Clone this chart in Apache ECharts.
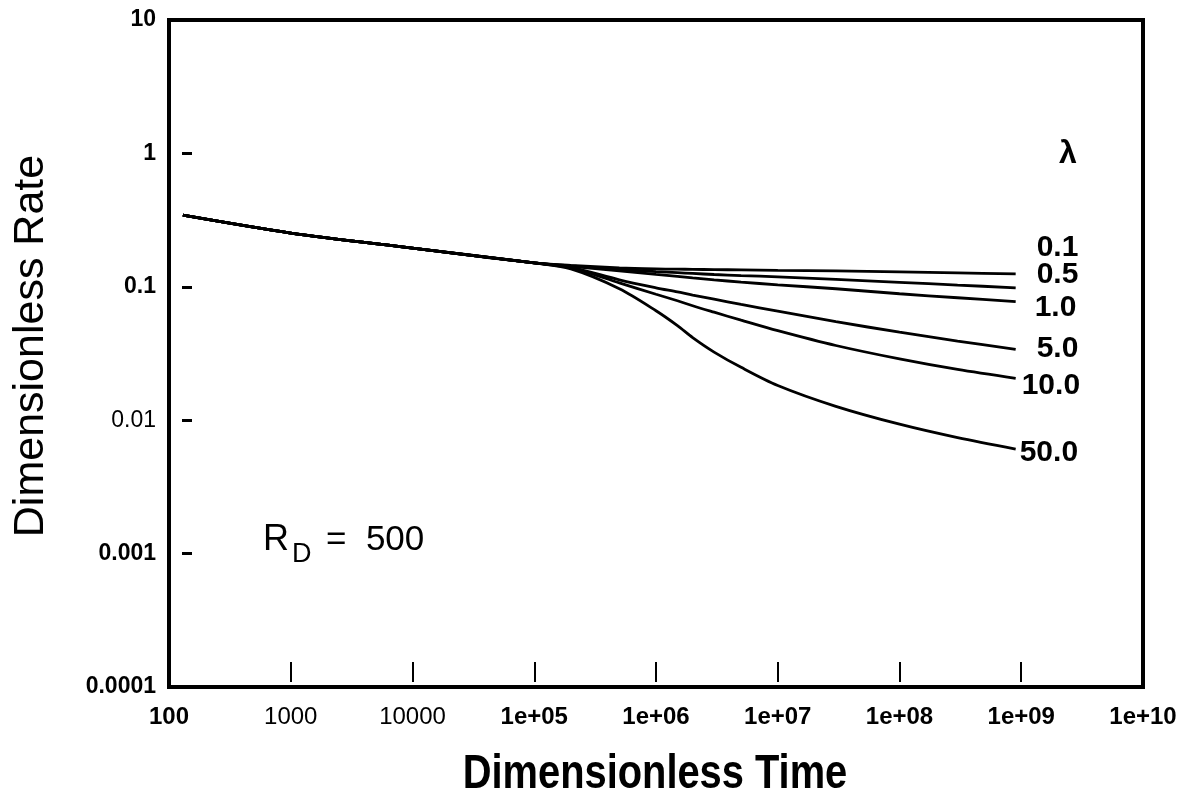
<!DOCTYPE html>
<html>
<head>
<meta charset="utf-8">
<script src="https://cdn.jsdelivr.net/npm/echarts@6/dist/echarts.min.js"></script>
<style>
  html, body { margin: 0; padding: 0; background: #fff; }
  #chart { width: 1182px; height: 800px; }
</style>
</head>
<body>
<div id="chart"></div>
<script>
// early time, all curves on top of each other
const tCommon = [130, 1e3, 1e4, 1e5];
const qCommon = [0.344, 0.253, 0.195, 0.151];
// later time, one curve per lambda
const tTail = [2e5, 5e5, 1e6, 1.5e6, 2e6, 3e6, 5e6, 1e7, 3e7, 1e8, 3e8, 9e8];

const lambdas = ['0.1', '0.5', '1.0', '5.0', '10.0', '50.0'];
const qLam01 = [0.1448, 0.1387, 0.1362, 0.1356, 0.1351, 0.1345, 0.1340, 0.1328, 0.1317, 0.1294, 0.1272, 0.1250];
const qLam05 = [0.1435, 0.1351, 0.1301, 0.1276, 0.1259, 0.1237, 0.1214, 0.1188, 0.1138, 0.1081, 0.1030, 0.0983];
const qLam1 = [0.1423, 0.1317, 0.1240, 0.1198, 0.1167, 0.1128, 0.1084, 0.1035, 0.0967, 0.0887, 0.0828, 0.0773];
const qLam5 = [0.1399, 0.1128, 0.0983, 0.0915, 0.0866, 0.0807, 0.0738, 0.0657, 0.0548, 0.0457, 0.0392, 0.0339];
const qLam10 = [0.1387, 0.1071, 0.0879, 0.0786, 0.0721, 0.0645, 0.0562, 0.0469, 0.0363, 0.0288, 0.0240, 0.0206];
const qLam50 = [0.1362, 0.0967, 0.0662, 0.0512, 0.0416, 0.0324, 0.0249, 0.0182, 0.0127, 0.00933, 0.00740, 0.00608];

const xTickLabels = ['100', '1000', '10000', '1e+05', '1e+06', '1e+07', '1e+08', '1e+09', '1e+10'];
const yTickLabels = ['0.0001', '0.001', '0.01', '0.1', '1', '10'];

// where the lambda text sits relative to the line end
const labelOffsets = [[21, -26], [21, -13], [19, 6], [21, -1], [6, 7], [4, 4]];

const tails = [qLam01, qLam05, qLam1, qLam5, qLam10, qLam50];

const FONT = "'Liberation Sans', Arial, Helvetica, sans-serif";

function buildSeries() {
  return lambdas.map((lam, i) => {
    const pts = [];
    tCommon.forEach((t, k) => pts.push([t, qCommon[k]]));
    tTail.forEach((t, k) => pts.push([t, tails[i][k]]));
    return {
      name: lam,
      type: 'line',
      data: pts,
      smooth: 0.3,
      showSymbol: false,
      symbol: 'none',
      lineStyle: { color: '#000', width: 2.8 },
      endLabel: {
        show: true,
        formatter: lam,
        distance: 0,
        offset: labelOffsets[i],
        color: '#000',
        fontFamily: FONT,
        fontWeight: 'bold',
        fontSize: 30
      },
      silent: true,
      z: 3
    };
  });
}

const chart = echarts.init(document.getElementById('chart'));

const option = {
  animation: false,
  backgroundColor: '#fff',
  grid: {
    left: 169,
    right: 39,
    top: 20,
    bottom: 113,
    show: true,
    borderColor: '#000',
    borderWidth: 4,
    backgroundColor: 'transparent'
  },
  xAxis: [
    {
      type: 'log',
      logBase: 10,
      min: 100,
      max: 1e10,
      axisLine: { show: false },
      axisTick: { show: false },
      splitLine: { show: false },
      axisLabel: {
        margin: 18,
        showMinLabel: true,
        showMaxLabel: true,
        color: '#000',
        fontFamily: FONT,
        fontSize: 24,
        formatter: (v) => {
          const s = xTickLabels[Math.round(Math.log10(v)) - 2];
          return s === '1000' || s === '10000' ? s : '{b|' + s + '}';
        },
        rich: { b: { fontFamily: FONT, fontSize: 24, fontWeight: 'bold', color: '#000' } }
      }
    },
    {
      // inner tick marks, a little above the frame
      type: 'log',
      logBase: 10,
      min: 100,
      max: 1e10,
      position: 'bottom',
      offset: -5,
      axisLine: { show: false },
      axisLabel: { show: false },
      splitLine: { show: false },
      axisTick: { show: true, inside: true, length: 20, lineStyle: { color: '#000', width: 2 } }
    }
  ],
  yAxis: [
    {
      type: 'log',
      logBase: 10,
      min: 1e-4,
      max: 10,
      axisLine: { show: false },
      axisTick: { show: false },
      splitLine: { show: false },
      axisLabel: {
        margin: 13,
        showMinLabel: true,
        showMaxLabel: true,
        color: '#000',
        fontFamily: FONT,
        fontSize: 23,
        formatter: (v) => {
          const s = yTickLabels[Math.round(Math.log10(v)) + 4];
          return s === '0.01' ? s : '{b|' + s + '}';
        },
        rich: { b: { fontFamily: FONT, fontSize: 23, fontWeight: 'bold', color: '#000' } }
      }
    },
    {
      // short dashes inside the left edge
      type: 'log',
      logBase: 10,
      min: 1e-4,
      max: 10,
      position: 'left',
      offset: -23,
      axisLine: { show: false },
      axisLabel: { show: false },
      splitLine: { show: false },
      axisTick: { show: true, inside: false, length: 10, lineStyle: { color: '#000', width: 3 } }
    }
  ],
  graphic: [
    {
      type: 'text',
      x: 31,
      y: 346,
      rotation: Math.PI / 2,
      style: {
        text: 'Dimensionless Rate',
        font: 'normal 43px ' + FONT,
        fill: '#000',
        align: 'center',
        verticalAlign: 'middle'
      }
    },
    {
      type: 'text',
      x: 655,
      y: 775,
      scaleX: 0.83,
      style: {
        text: 'Dimensionless Time',
        font: 'bold 48px ' + FONT,
        fill: '#000',
        align: 'center',
        verticalAlign: 'middle'
      }
    },
    {
      type: 'text',
      x: 1068,
      y: 154,
      style: {
        text: 'λ',
        font: 'bold 32px ' + FONT,
        fill: '#000',
        align: 'center',
        verticalAlign: 'middle'
      }
    },
    {
      type: 'text',
      x: 263,
      y: 540,
      style: { text: 'R', font: 'normal 36px ' + FONT, fill: '#000', align: 'left', verticalAlign: 'middle' }
    },
    {
      type: 'text',
      x: 292,
      y: 555,
      style: { text: 'D', font: 'normal 27px ' + FONT, fill: '#000', align: 'left', verticalAlign: 'middle' }
    },
    {
      type: 'text',
      x: 326,
      y: 540,
      style: { text: '=  500', font: 'normal 35px ' + FONT, fill: '#000', align: 'left', verticalAlign: 'middle' }
    }
  ],
  series: buildSeries()
};

chart.setOption(option);
</script>
</body>
</html>
